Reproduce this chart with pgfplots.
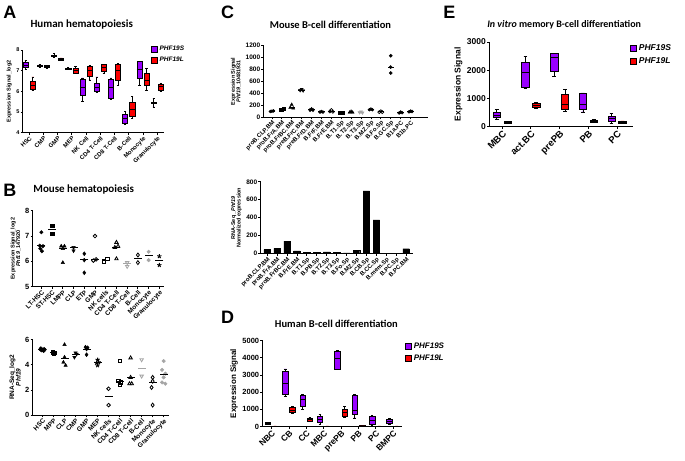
\documentclass[border=0pt]{standalone}
\usepackage{fontspec}
\setmainfont{Liberation Sans}
\newfontfamily\calibri{Carlito}
\usepackage{pgfplots}
\pgfplotsset{compat=1.18}
\usepgfplotslibrary{statistics}
\usetikzlibrary{plotmarks}

\definecolor{phfS}{RGB}{153,0,255}
\definecolor{phfL}{RGB}{250,0,0}
\definecolor{gry}{RGB}{165,165,165}

\newcommand{\fs}[1]{\fontsize{#1}{#1}\selectfont\bfseries}
\newcommand{\ttl}[1]{\calibri\fontsize{#1}{#1}\selectfont\bfseries}

\pgfplotsset{
  prism/.style={
    scale only axis, anchor=south west, clip=false,
    axis x line*=bottom, axis y line*=left,
    axis line style={-, line width=0.9pt},
    tick align=outside, major tick length=2.2pt,
    every tick/.style={black, line width=0.8pt},
    /pgf/number format/assume math mode=true,
    /pgf/number format/1000 sep={},
    xticklabel style={rotate=45, anchor=north east, inner sep=0.5pt},
    yticklabel style={inner sep=1pt},
    ylabel style={align=center},
    legend cell align=left,
    boxplot/draw direction=y,
  },
  sq/.style={legend image code/.code={\draw[black, line width=0.5pt, fill=#1] (0pt,-3pt) rectangle (6pt,3pt);}},
  mean/.style={only marks, mark=-, mark size=4pt, mark options={line width=1pt}},
  dot/.style={only marks, mark size=#1},
}
% box: colour, position, lower whisker, lower quartile, median, upper quartile, upper whisker
\newcommand{\bx}[7]{\addplot[draw=black, line width=0.6pt, fill=#1,
  boxplot prepared={draw position=#2, lower whisker=#3, lower quartile=#4,
  median=#5, upper quartile=#6, upper whisker=#7}] coordinates {};}

\begin{document}
\begin{tikzpicture}
\path (0pt,0pt) rectangle (685pt,461pt);

% ---------------- A
\node[font=\fs{18}] at (9pt,449pt) {A};
\node[font=\ttl{11}] at (81pt,436pt) {Human hematopoiesis};
\begin{axis}[prism, at={(22pt,328pt)}, width=141pt, height=83pt,
  xmin=-0.45, xmax=9.45, ymin=4, ymax=8, ytick={4,5,6,7,8},
  xtick={0,...,9},
  xticklabels={HSC,CMP,GMP,MEP,NK Cell,CD4 T-Cell,CD8 T-Cell,B-Cell,Monocyte,Granulocyte},
  tick label style={font=\fs{6}}, yticklabel style={font=\fs{5.5}},
  ylabel={Expression Signal\_log2}, ylabel style={font=\fs{5.5}},
  boxplot/box extend=0.36, boxplot/whisker extend=0.16,
  legend style={at={(0.91,1.07)}, anchor=north west, draw=none, fill=none,
    font=\fs{6.5}\itshape, inner sep=0pt, row sep=1pt}]
\addlegendimage{sq=phfS}\addlegendentry{PHF19S}
\addlegendimage{sq=phfL}\addlegendentry{PHF19L}
\bx{phfS}{-0.25}{7.05}{7.15}{7.25}{7.4}{7.5}
\bx{phfL}{0.25}{6.05}{6.1}{6.3}{6.5}{6.7}
\bx{phfS}{0.75}{7.18}{7.22}{7.25}{7.28}{7.32}
\bx{phfL}{1.25}{7.12}{7.15}{7.2}{7.25}{7.27}
\bx{phfS}{1.75}{7.65}{7.7}{7.72}{7.75}{7.85}
\bx{phfL}{2.25}{7.5}{7.52}{7.55}{7.6}{7.62}
\bx{phfS}{2.75}{7.05}{7.07}{7.1}{7.13}{7.15}
\bx{phfL}{3.25}{6.85}{6.88}{7.0}{7.1}{7.2}
\bx{phfS}{3.75}{5.5}{5.8}{6.2}{6.6}{6.65}
\bx{phfL}{4.25}{6.55}{6.75}{7.0}{7.2}{7.25}
\bx{phfS}{4.75}{5.95}{6.0}{6.2}{6.4}{6.7}
\bx{phfL}{5.25}{6.85}{6.95}{7.15}{7.3}{7.3}
\bx{phfS}{5.75}{5.6}{5.65}{6.2}{6.6}{6.65}
\bx{phfL}{6.25}{6.3}{6.55}{7.0}{7.3}{7.35}
\bx{phfS}{6.75}{4.4}{4.45}{4.7}{4.9}{5.05}
\bx{phfL}{7.25}{4.7}{4.8}{5.15}{5.45}{5.75}
\bx{phfS}{7.75}{6.3}{6.65}{7.05}{7.45}{7.45}
\bx{phfL}{8.25}{6.05}{6.3}{6.55}{6.85}{7.1}
\bx{phfS}{8.75}{5.25}{5.42}{5.45}{5.48}{5.65}
\bx{phfL}{9.25}{6.0}{6.05}{6.25}{6.35}{6.4}
\end{axis}

% ---------------- B (top)
\node[font=\fs{18}] at (9pt,270pt) {B};
\node[font=\ttl{11}] at (83pt,271pt) {Mouse hematopoiesis};
\begin{axis}[prism, at={(32pt,174pt)}, width=131pt, height=76pt,
  xmin=-0.8, xmax=11.4, ymin=5, ymax=8, ytick={5,6,7,8},
  xtick={0,...,11},
  xticklabels={LT-HSC,ST-HSC,LMPP,CLP,ETP,GMP,NK cells,CD4 T-Cell,CD8 T-Cell,B-Cell,Monocyte,Granulocyte},
  tick label style={font=\fs{6.5}}, yticklabel style={font=\fs{7.5}},
  ylabel={Expression Signal\_log2\\\textit{Phf19}\_147920}, ylabel style={font=\fs{5.5}}]
\addplot[dot=1.8pt, mark=*] coordinates {(0,7.15)(-0.15,6.62)(0.15,6.6)(-0.1,6.5)(0.05,6.4)};
\addplot[dot=1.7pt, mark=square*] coordinates {(1,7.4)(1,7.1)};
\addplot[dot=2pt, mark=triangle*] coordinates {(1.85,6.6)(2.15,6.6)(2,6.5)(2,5.95)};
\addplot[dot=2pt, mark=triangle*, mark options={rotate=180}] coordinates {(3,6.55)(3,6.42)};
\addplot[dot=2pt, mark=diamond*] coordinates {(4,6.3)(4,6.05)(4,5.55)};
\addplot[dot=1.8pt, mark=o, mark options={line width=0.8pt}] coordinates {(5,7.0)(4.85,6.03)(5.1,6.08)};
\addplot[dot=1.7pt, mark=square, mark options={line width=0.8pt}] coordinates {(5.85,6.0)(6.15,6.1)};
\addplot[dot=2pt, mark=triangle, mark options={line width=0.8pt}] coordinates {(7,6.75)(6.85,6.55)(7.15,6.6)(7,6.1)};
\addplot[dot=2pt, mark=triangle, gry, mark options={rotate=180, line width=0.8pt}] coordinates {(8,5.95)(8,5.8)};
\addplot[dot=2pt, mark=diamond, mark options={line width=0.8pt}] coordinates {(9,6.25)(9,5.95)};
\addplot[dot=1.8pt, mark=*, gry] coordinates {(10,6.38)(10,6.05)};
\addplot[dot=2.2pt, mark=star, mark options={line width=0.9pt}] coordinates {(11,6.2)(11,5.85)};
\addplot[mean] coordinates {(0,6.62)(1,7.25)(2,6.49)(3,6.55)(4,6.08)(5,6.08)(6,6.05)(7,6.55)(9,6.12)(10,6.22)(11,6.05)};
\addplot[mean, gry] coordinates {(8,5.9)};
\end{axis}

% ---------------- B (bottom)
\begin{axis}[prism, at={(32pt,45.3pt)}, width=136pt, height=75.7pt,
  xmin=-0.88, xmax=11.45, ymin=0, ymax=6, ytick={0,2,4,6},
  xtick={0,...,11},
  xticklabels={HSC,MPP,CLP,CMP,GMP,MEP,NK cells,CD4 T-Cell,CD8 T-Cell,B-Cell,Monocyte,Granulocyte},
  tick label style={font=\fs{6.5}}, yticklabel style={font=\fs{7.5}},
  ylabel={RNA-Seq\_log2\\\textit{Phf19}}, ylabel style={font=\fs{6.5}}]
\addplot[dot=1.8pt, mark=*] coordinates {(-0.15,5.3)(0.15,5.25)(0,5.2)(-0.1,5.15)(0.1,5.1)(0.2,5.2)(-0.2,5.22)};
\addplot[dot=1.6pt, mark=square*] coordinates {(0.9,5.0)(1.1,4.95)(1,4.9)};
\addplot[dot=2pt, mark=triangle*] coordinates {(2,5.6)(2,4.6)(1.9,4.2)(2.1,3.95)};
\addplot[dot=2pt, mark=triangle*, mark options={rotate=180}] coordinates {(3,4.95)(3.1,4.85)(2.9,4.6)};
\addplot[dot=2pt, mark=diamond*] coordinates {(3.9,5.4)(4.1,5.35)(4,5.25)(4,4.8)};
\addplot[dot=2.2pt, mark=star, mark options={line width=0.9pt}] coordinates {(5,4.4)(5.1,4.2)(4.9,4.15)(5,3.95)};
\addplot[dot=1.8pt, mark=o, mark options={line width=0.8pt}] coordinates {(6,2.1)(6,0.8)};
\addplot[dot=1.7pt, mark=square, mark options={line width=0.8pt}] coordinates {(7,4.3)(6.9,2.7)(7.1,2.6)(7,2.4)};
\addplot[dot=2pt, mark=triangle, mark options={line width=0.8pt}] coordinates {(8,4.55)(8,3.0)(7.9,2.5)(8.1,2.5)};
\addplot[dot=2pt, mark=triangle, gry, mark options={rotate=180, line width=0.8pt}] coordinates {(9,4.4)(9,3.1)};
\addplot[dot=2pt, mark=diamond, mark options={line width=0.8pt}] coordinates {(10,3.0)(10,2.7)(9.9,2.2)(10,0.8)};
\addplot[dot=1.8pt, mark=*, gry] coordinates {(11,4.3)(10.85,3.6)(11.15,3.3)(11,3.0)(10.85,2.6)(11.15,2.5)};
\addplot[mean] coordinates {(0,5.2)(1,4.95)(2,4.5)(3,4.85)(4,5.2)(5,4.15)(6,1.45)(7,2.7)(8,3.0)(10,2.6)(11,3.25)};
\addplot[mean, gry] coordinates {(9,3.7)};
\end{axis}

% ---------------- C (top)
\node[font=\fs{18}] at (227pt,449pt) {C};
\node[font=\ttl{10.5}] at (330pt,436pt) {Mouse B-cell differentiation};
\begin{axis}[prism, at={(263pt,343.7pt)}, width=165pt, height=71.6pt,
  xmin=-0.85, xmax=15.8, ymin=0, ymax=1200, ytick={0,200,...,1200},
  xtick={0,...,14},
  xticklabels={proB.CLP.BM,proB.FrA.BM,proB.FrBC.BM,preB.FrC.BM,preB.FrD.BM,B.FrF.BM,B.FrE.BM,B.T1.Sp,B.T2.Sp,B.T3.Sp,B.MZ.Sp,B.Fo.Sp,B.GC.Sp,B1a.PC,B1b.PC},
  tick label style={font=\fs{6}}, yticklabel style={font=\fs{6.5}},
  ylabel={Expression Signal\\\textit{Phf19}\_10481931}, ylabel style={font=\fs{5.5}}]
\addplot[dot=1.5pt, mark=*] coordinates {(-0.15,95)(0,100)(0.15,105)};
\addplot[dot=1.4pt, mark=square*] coordinates {(0.85,120)(1,130)(1.15,140)};
\addplot[dot=1.8pt, mark=triangle*] coordinates {(2,210)(1.85,160)(2.15,150)};
\addplot[dot=1.8pt, mark=triangle*, mark options={rotate=180}] coordinates {(3,470)(2.85,450)(3.15,445)};
\addplot[dot=1.8pt, mark=diamond*] coordinates {(4,135)(3.85,120)(4.15,120)};
\addplot[dot=1.5pt, mark=*] coordinates {(5,95)(4.85,85)(5.15,85)};
\addplot[dot=1.5pt, mark=o, mark options={line width=0.7pt}] coordinates {(6,120)(5.85,95)(6.15,90)};
\addplot[dot=1.4pt, mark=square*] coordinates {(7,80)(6.85,75)(7.15,75)};
\addplot[dot=1.8pt, mark=triangle*] coordinates {(8,95)(7.85,80)(8.15,80)};
\addplot[dot=1.8pt, mark=triangle*, gry, mark options={rotate=180}] coordinates {(9,90)(8.85,80)(9.15,75)};
\addplot[dot=1.5pt, mark=*] coordinates {(10,135)(9.85,125)(10.15,125)};
\addplot[dot=1.5pt, mark=o, mark options={line width=0.7pt}] coordinates {(11,100)(10.85,85)(11.15,85)};
\addplot[dot=1.6pt, mark=*] coordinates {(12,1030)(12,840)(12,740)};
\addplot[dot=1.5pt, mark=*] coordinates {(13,85)(12.85,70)(13.15,75)};
\addplot[dot=1.5pt, mark=*] coordinates {(14,100)(13.85,90)(14.15,95)};
\addplot[mean, mark size=3.2pt] coordinates {(0,100)(1,130)(2,170)(3,455)(4,125)(5,90)(6,100)(7,78)(8,85)(10,130)(11,90)(12,830)(13,78)(14,95)};
\addplot[mean, mark size=3.2pt, gry] coordinates {(9,82)};
\end{axis}

% ---------------- C (bottom)
\begin{axis}[prism, at={(260pt,207pt)}, width=153pt, height=72pt,
  xmin=-0.67, xmax=14.73, ymin=0, ymax=800, ytick={0,200,...,800},
  xtick={0,...,14},
  xticklabels={proB.CLP.BM,proB.FrA.BM,proB.FrBC.BM,B.FrE.BM,B.T1.Sp,B.PB.Sp,B.T2.Sp,B.T3.Sp,B.Fo.Sp,B.MZ.Sp,B.CB.Sp,B.CC.Sp,B.mem.Sp,B.PC.Sp,B.PC.BM},
  tick label style={font=\fs{6}}, yticklabel style={font=\fs{6.5}},
  ylabel={RNA-Seq \_\textit{Phf19}\\Normalized expression}, ylabel style={font=\fs{5.5}},
  ybar, bar width=6.5pt]
\addplot[fill=black, draw=black] coordinates {(0,45)(1,60)(2,140)(3,30)(4,15)(5,18)(6,20)(7,15)(8,8)(9,38)(10,700)(11,375)(12,0)(13,0)(14,55)};
\end{axis}

% ---------------- D
\node[font=\fs{18}] at (227pt,143pt) {D};
\node[font=\ttl{10.5}] at (336pt,137pt) {Human B-cell differentiation};
\begin{axis}[prism, at={(262pt,34pt)}, width=140pt, height=86pt,
  xmin=-0.52, xmax=7.53, ymin=0, ymax=5000, ytick={0,1000,...,5000},
  xtick={0,...,7},
  xticklabels={NBC,CB,CC,MBC,prePB,PB,PC,BMPC},
  tick label style={font=\fs{8.5}}, yticklabel style={font=\fs{7.5}},
  ylabel={Expression Signal}, ylabel style={font=\fs{8}},
  boxplot/box extend=0.32, boxplot/whisker extend=0.15,
  legend style={at={(1.02,1.0)}, anchor=north west, draw=none, fill=none,
    font=\fs{8}\itshape, inner sep=0pt, row sep=1pt}]
\addlegendimage{sq=phfS}\addlegendentry{PHF19S}
\addlegendimage{sq=phfL}\addlegendentry{PHF19L}
\bx{phfS}{-0.21}{100}{120}{180}{220}{250}
\bx{phfL}{0.21}{10}{15}{20}{25}{30}
\bx{phfS}{0.79}{1750}{1900}{2500}{3200}{3350}
\bx{phfL}{1.21}{750}{800}{950}{1100}{1150}
\bx{phfS}{1.79}{1000}{1150}{1600}{1800}{1850}
\bx{phfL}{2.21}{300}{330}{400}{500}{550}
\bx{phfS}{2.79}{150}{250}{400}{600}{700}
\bx{phfL}{3.21}{10}{15}{20}{25}{30}
\bx{phfS}{3.79}{3300}{3350}{3950}{4350}{4450}
\bx{phfL}{4.21}{550}{600}{800}{1000}{1150}
\bx{phfS}{4.79}{500}{700}{950}{1800}{1850}
\bx{phfL}{5.21}{15}{20}{30}{40}{45}
\bx{phfS}{5.79}{50}{100}{350}{600}{650}
\bx{phfL}{6.21}{10}{15}{20}{25}{30}
\bx{phfS}{6.79}{100}{200}{300}{420}{480}
\bx{phfL}{7.21}{10}{15}{20}{25}{30}
\end{axis}

% ---------------- E
\node[font=\fs{18}] at (449pt,449pt) {E};
\node[font=\ttl{10}] at (564pt,436pt) {\itshape In vitro\upshape{} memory B-cell differentiation};
\begin{axis}[prism, at={(489pt,334pt)}, width=144pt, height=85pt,
  xmin=-0.45, xmax=4.56, ymin=0, ymax=3000, ytick={0,1000,2000,3000},
  xtick={0,...,4},
  xticklabels={MBC,act.BC,prePB,PB,PC},
  tick label style={font=\fs{9.5}}, yticklabel style={font=\fs{8.5}},
  ylabel={Expression Signal}, ylabel style={font=\fs{8.5}},
  boxplot/box extend=0.26, boxplot/whisker extend=0.13,
  legend style={at={(0.98,0.99)}, anchor=north west, draw=none, fill=none,
    font=\fs{8.5}\itshape, inner sep=0pt, row sep=1.5pt}]
\addlegendimage{sq=phfS}\addlegendentry{PHF19S}
\addlegendimage{sq=phfL}\addlegendentry{PHF19L}
\bx{phfS}{-0.19}{280}{320}{420}{530}{620}
\bx{phfL}{0.19}{120}{140}{160}{190}{200}
\bx{phfS}{0.81}{1350}{1400}{1920}{2280}{2480}
\bx{phfL}{1.19}{650}{680}{750}{820}{850}
\bx{phfS}{1.81}{1780}{1950}{2450}{2600}{2600}
\bx{phfL}{2.19}{550}{620}{780}{1150}{1320}
\bx{phfS}{2.81}{530}{620}{800}{1170}{1200}
\bx{phfL}{3.19}{150}{170}{200}{230}{250}
\bx{phfS}{3.81}{130}{180}{290}{370}{470}
\bx{phfL}{4.19}{110}{130}{160}{190}{210}
\end{axis}
\end{tikzpicture}
\end{document}
